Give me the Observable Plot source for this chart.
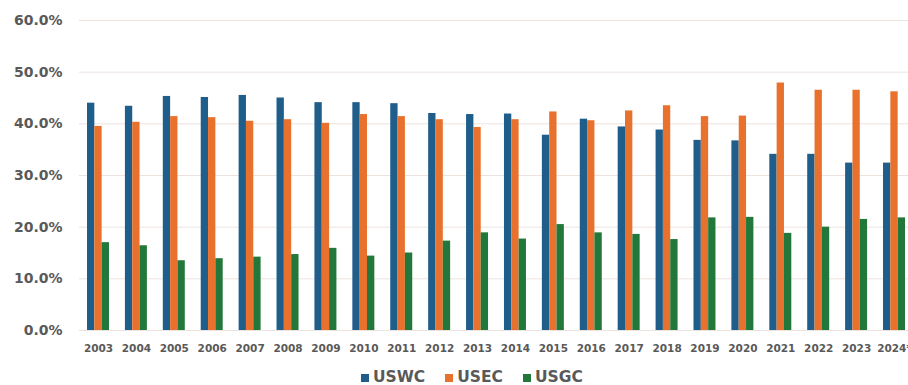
<!DOCTYPE html>
<html>
<head>
<meta charset="utf-8">
<script src="https://cdn.jsdelivr.net/npm/d3@7"></script>
<script src="https://cdn.jsdelivr.net/npm/@observablehq/plot@0.6"></script>
<style>
  html, body { margin: 0; padding: 0; background: #fff; overflow: hidden; }
  #chart { position: relative; width: 908px; height: 385px; }
  .legend {
    display: flex; align-items: baseline; margin-top: 10px; padding-left: 361px;
    font: bold 15.5px "DejaVu Sans", sans-serif; line-height: 18px; color: #595959;
  }
  .legend .item { display: flex; align-items: baseline; margin-right: 20px; }
  .legend .sw { display: inline-block; width: 8px; height: 8px; margin-right: 4px; }
</style>
</head>
<body>
<div id="chart"></div>
<script>
// Share of volume by US coast, per year
const years = ["2003","2004","2005","2006","2007","2008","2009","2010","2011","2012","2013",
               "2014","2015","2016","2017","2018","2019","2020","2021","2022","2023","2024"];
const yearLabels = ["2003","2004","2005","2006","2007","2008","2009","2010","2011","2012","2013",
                    "2014","2015","2016","2017","2018","2019","2020","2021","2022","2023","2024*"];
const series = ["USWC", "USEC", "USGC"];
const uswc = [44.0, 43.4, 45.3, 45.1, 45.5, 45.0, 44.1, 44.1, 43.9, 42.0, 41.8,
              41.9, 37.8, 40.9, 39.4, 38.8, 36.8, 36.7, 34.1, 34.1, 32.4, 32.4];
const usec = [39.5, 40.3, 41.4, 41.2, 40.5, 40.8, 40.1, 41.8, 41.4, 40.8, 39.3,
              40.8, 42.3, 40.6, 42.5, 43.5, 41.4, 41.5, 47.9, 46.5, 46.5, 46.2];
const usgc = [17.0, 16.4, 13.5, 13.9, 14.2, 14.7, 15.9, 14.4, 15.0, 17.3, 18.9,
              17.7, 20.5, 18.9, 18.6, 17.6, 21.8, 21.9, 18.8, 20.0, 21.5, 21.8];
const yTicks = [0, 10, 20, 30, 40, 50, 60];
const colors = ["#1f5e8a", "#e8722d", "#21783a"];

// Long-form table built from the series arrays
const valuesBySeries = [uswc, usec, usgc];
const rows = series.flatMap((s, i) =>
  years.map((yr, j) => ({ year: yr, series: s, value: valuesBySeries[i][j] })));

// Year bands: each band holds a group of three side-by-side bars
const xRange = [79, 913];
const padInner = 0.42, padOuter = 0.211;
const step = (xRange[1] - xRange[0]) / (years.length - padInner + 2 * padOuter);
const groupW = step * (1 - padInner);
const barW = groupW / series.length;

const textColor = "#595959";

const chart = Plot.plot({
  width: 908,
  height: 358,
  marginLeft: 79,
  marginRight: 0,
  marginTop: 20,
  marginBottom: 28,
  style: { background: "#fff", color: textColor, fontFamily: "'DejaVu Sans', sans-serif" },
  x: { domain: years, range: xRange, paddingInner: padInner, paddingOuter: padOuter, round: false },
  y: { domain: [0, 60] },
  color: { domain: series, range: colors },
  marks: [
    Plot.ruleY(yTicks, { stroke: "#ece3df", strokeWidth: 1 }),
    ...series.map((s, i) =>
      Plot.barY(rows.filter(d => d.series === s), {
        x: "year",
        y: "value",
        fill: "series",
        insetLeft: barW * i,
        insetRight: barW * (series.length - 1 - i)
      })
    ),
    Plot.axisY(yTicks, {
      tickSize: 0,
      tickPadding: 17,
      tickFormat: d => d.toFixed(1) + "%",
      fontSize: 14,
      fontWeight: "bold",
      fill: textColor,
      label: null
    }),
    Plot.axisX(years, {
      tickSize: 0,
      tickPadding: 14,
      tickFormat: d => yearLabels[years.indexOf(d)],
      fontSize: 10.5,
      fontWeight: "bold",
      fill: textColor,
      label: null
    })
  ]
});

const root = document.getElementById("chart");
root.appendChild(chart);

// Swatch legend drawn from the chart's color scale
const colorScale = chart.scale("color");
const legend = document.createElement("div");
legend.className = "legend";
colorScale.domain.forEach((s, i) => {
  const item = document.createElement("span");
  item.className = "item";
  const sw = document.createElement("span");
  sw.className = "sw";
  sw.style.background = colorScale.range[i];
  const label = document.createElement("span");
  label.textContent = s;
  item.appendChild(sw);
  item.appendChild(label);
  legend.appendChild(item);
});
root.appendChild(legend);
</script>
</body>
</html>
